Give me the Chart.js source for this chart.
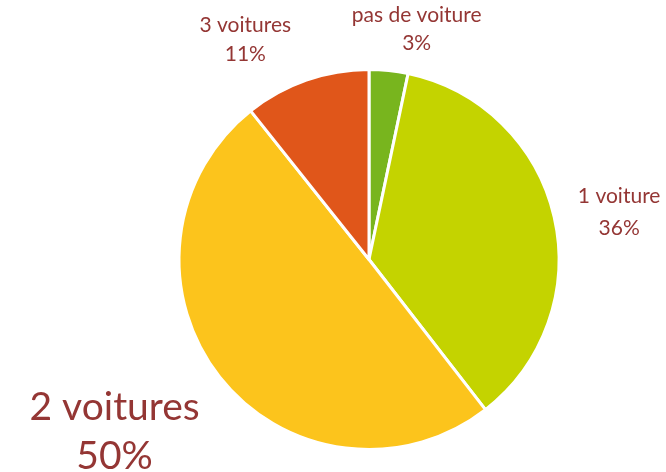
<!DOCTYPE html>
<html>
<head>
<meta charset="utf-8">
<script src="https://cdn.jsdelivr.net/npm/chart.js@4"></script>
<style>
  html, body { margin: 0; padding: 0; background: #fff; }
  #wrap { width: 666px; height: 472px; }
</style>
</head>
<body>
<div id="wrap"><canvas id="pieVoitures" width="666" height="472"></canvas></div>
<script>
var categories = ['pas de voiture', '1 voiture', '2 voitures', '3 voitures'];
var shares = [3.3, 36.2, 49.8, 10.7];
var colours = ['#78B51E', '#C4D300', '#FCC41C', '#E0561A'];

// label placement relative to the outer middle of each slice, and font size
var labelStyle = [
    { dx: 28, dy: -41, size: 21, lineHeight: 28 },
    { dx: 65, dy: -5, size: 21, lineHeight: 32 },
    { dx: -105, dy: 55, size: 39, lineHeight: 49 },
    { dx: -61, dy: -40, size: 21, lineHeight: 29 }
];

var sliceLabels = {
    id: 'sliceLabels',
    afterDatasetsDraw: function(chart) {
        var ctx = chart.ctx;
        var meta = chart.getDatasetMeta(0);
        var total = shares.reduce(function(a, b) { return a + b; }, 0);
        ctx.save();
        ctx.fillStyle = '#943634';
        ctx.textAlign = 'center';
        ctx.textBaseline = 'middle';
        for (var i = 0; i < meta.data.length; i++) {
            var arc = meta.data[i];
            var mid = (arc.startAngle + arc.endAngle) / 2;
            var x = arc.x + Math.cos(mid) * arc.outerRadius + labelStyle[i].dx;
            var y = arc.y + Math.sin(mid) * arc.outerRadius + labelStyle[i].dy;
            var pct = Math.round(shares[i] / total * 100) + '%';
            ctx.font = labelStyle[i].size + 'px Lato';
            ctx.fillText(categories[i], x, y - labelStyle[i].lineHeight / 2);
            ctx.fillText(pct, x, y + labelStyle[i].lineHeight / 2);
        }
        ctx.restore();
    }
};

const config = {
    type: 'pie',
    data: {
        labels: categories,
        datasets: [{
            data: shares,
            backgroundColor: colours,
            borderColor: '#ffffff',
            borderWidth: 3
        }]
    },
    options: {
        animation: false,
        responsive: false,
        layout: {
            padding: { left: 72, right: 0, top: 68, bottom: 21 }
        },
        plugins: {
            legend: { display: false },
            tooltip: { enabled: false },
            title: { display: false }
        }
    },
    plugins: [sliceLabels]
};

new Chart(document.getElementById('pieVoitures'), config);
</script>
</body>
</html>
